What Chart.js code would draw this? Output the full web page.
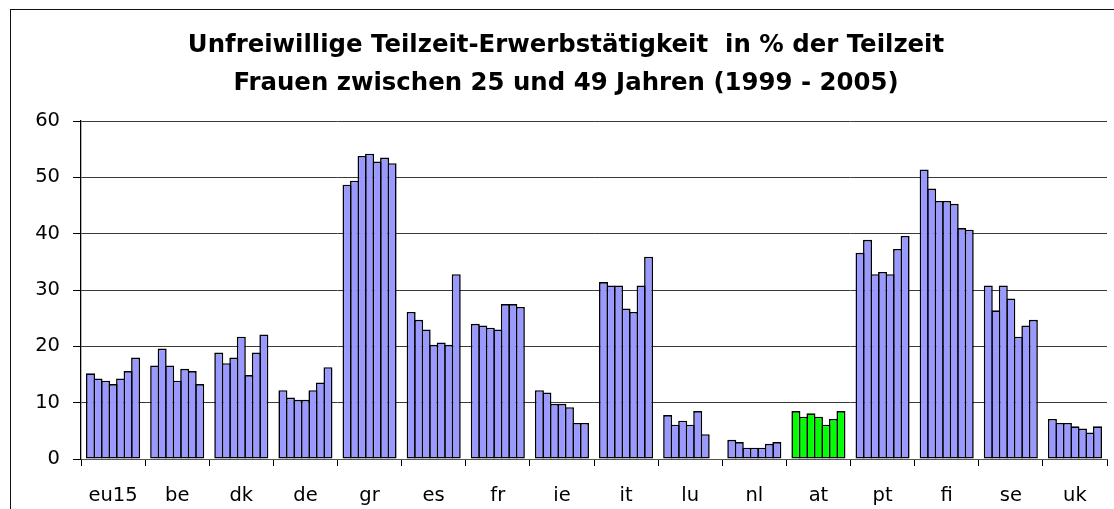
<!DOCTYPE html>
<html>
<head>
<meta charset="utf-8">
<script src="https://cdn.jsdelivr.net/npm/chart.js@4/dist/chart.umd.min.js"></script>
<style>
  html, body { margin: 0; padding: 0; background: #fff; width: 1114px; height: 509px; overflow: hidden; }
  #frame { position: absolute; left: 10px; top: 9px; width: 1300px; height: 700px; border: 1.5px solid #111; box-sizing: border-box; }
  #c { position: absolute; left: 0; top: 0; }
</style>
</head>
<body>
<div id="frame"></div>
<canvas id="c" width="1114" height="509"></canvas>
<script>
const categories = ['eu15','be','dk','de','gr','es','fr','ie','it','lu','nl','at','pt','fi','se','uk'];
const years = ['1999','2000','2001','2002','2003','2004','2005'];
const y1999 = [15.2, 16.6, 18.9, 12.2, 48.7, 26.1, 24.0, 12.2, 31.4, 7.8, 3.4, 8.5, 36.6, 51.4, 30.8, 7.1];
const y2000 = [14.3, 19.6, 17.0, 10.9, 49.4, 24.7, 23.7, 11.8, 30.8, 6.1, 3.0, 7.5, 38.9, 48.0, 26.4, 6.4];
const y2001 = [13.9, 16.6, 18.0, 10.5, 53.8, 23.0, 23.3, 9.8, 30.8, 6.8, 2.0, 8.1, 32.8, 45.8, 30.8, 6.4];
const y2002 = [13.3, 13.9, 21.7, 10.5, 54.2, 20.3, 23.0, 9.8, 26.7, 6.1, 2.0, 7.5, 33.2, 45.8, 28.5, 5.8];
const y2003 = [14.3, 16.0, 14.9, 12.2, 52.8, 20.7, 27.5, 9.2, 26.1, 8.5, 2.0, 6.1, 32.8, 45.3, 21.7, 5.4];
const y2004 = [15.6, 15.6, 18.9, 13.6, 53.5, 20.3, 27.5, 6.4, 30.8, 4.4, 2.7, 7.1, 37.3, 41.0, 23.7, 4.7];
const y2005 = [18.0, 13.3, 22.1, 16.3, 52.5, 32.8, 27.0, 6.4, 35.9, null, 3.0, 8.5, 39.6, 40.7, 24.7, 5.8];
const seriesValues = [y1999, y2000, y2001, y2002, y2003, y2004, y2005];
const highlightCategory = 'at';
const titleLines = ['Unfreiwillige Teilzeit-Erwerbstätigkeit  in % der Teilzeit', 'Frauen zwischen 25 und 49 Jahren (1999 - 2005)'];
const yTicks = [0, 10, 20, 30, 40, 50, 60];

const barColor = '#9999FF';
const highlightColor = '#00FF00';
const fills = categories.map(c => c === highlightCategory ? highlightColor : barColor);

const datasets = seriesValues.map((vals, i) => ({
  label: years[i],
  data: vals,
  backgroundColor: fills,
  borderColor: '#000',
  borderWidth: 1.6,
  borderSkipped: false,
  barPercentage: 1.2,
  categoryPercentage: 0.82
}));

new Chart(document.getElementById('c'), {
  type: 'bar',
  data: { labels: categories, datasets },
  options: {
    responsive: false,
    animation: false,
    devicePixelRatio: 1,
    layout: { padding: { left: 25, right: 7, top: 0, bottom: 0 } },
    plugins: {
      legend: { display: false },
      tooltip: { enabled: false },
      title: {
        display: true,
        text: titleLines,
        color: '#000',
        font: { family: 'DejaVu Sans', size: 24.4, weight: 'bold', lineHeight: '38px' },
        padding: { top: 27, bottom: 18 }
      }
    },
    scales: {
      x: {
        grid: { display: true, drawOnChartArea: false, drawTicks: true, tickLength: 7, color: '#000', offset: true },
        border: { display: true, color: '#555', width: 1 },
        ticks: { color: '#000', font: { family: 'DejaVu Sans', size: 19.5 }, padding: 18, maxRotation: 0, autoSkip: false },
        afterFit: s => { s.height = 50; }
      },
      y: {
        min: 0, max: 60,
        afterBuildTicks: s => { s.ticks = yTicks.map(v => ({ value: v })); },
        grid: { color: '#3a3a3a', lineWidth: 1, drawTicks: true, tickLength: 8, tickColor: '#000' },
        border: { display: true, color: '#000', width: 1.3 },
        ticks: { color: '#000', font: { family: 'DejaVu Sans', size: 19.5 }, padding: 13 },
        afterFit: s => { s.width = 56; }
      }
    }
  }
});
</script>
</body>
</html>
